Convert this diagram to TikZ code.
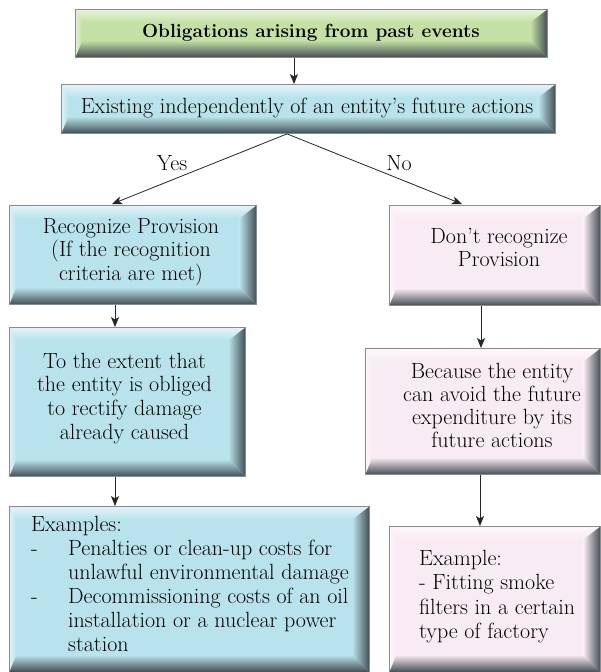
\documentclass[tikz,border=0pt]{standalone}
\usetikzlibrary{arrows.meta,calc}

\definecolor{bgreen}{RGB}{196,224,164}
\definecolor{bblue}{RGB}{184,227,236}
\definecolor{bpink}{RGB}{249,235,243}
\definecolor{bdark}{RGB}{66,78,84}
\definecolor{bedge}{RGB}{140,140,140}

% lines of a multi-line label; the baseline is that of the first line
\newcommand\txtlines[2]{\begin{tabular}[t]{@{}#1@{}}#2\end{tabular}}

\tikzset{
  % box with a raised (bevelled) look: light top/left edges, dark bottom/right edges
  bevel/.style={
    draw=bedge, line width=0.9pt, fill=#1, inner sep=0pt, anchor=north west,
    path picture={
      \coordinate (bvSW) at (path picture bounding box.south west);
      \coordinate (bvNE) at (path picture bounding box.north east);
      \coordinate (bvSE) at (bvSW -| bvNE);
      \coordinate (bvNW) at (bvSW |- bvNE);
      \shade[top color=white!60!#1, bottom color=#1]
        (bvNW) -- (bvNE) -- ($(bvNE)+(-17pt,-13pt)$) -- ($(bvNW)+(7pt,-13pt)$) -- cycle;
      \shade[left color=white!50!#1, right color=#1]
        (bvNW) -- ($(bvNW)+(7pt,-13pt)$) -- ($(bvSW)+(7pt,17pt)$) -- (bvSW) -- cycle;
      \shade[left color=#1, middle color=#1!60!bdark, right color=bdark]
        (bvNE) -- (bvSE) -- ($(bvSE)+(-17pt,17pt)$) -- ($(bvNE)+(-17pt,-13pt)$) -- cycle;
      \shade[top color=#1, middle color=#1!60!bdark, bottom color=bdark]
        (bvSW) -- (bvSE) -- ($(bvSE)+(-17pt,17pt)$) -- ($(bvSW)+(7pt,17pt)$) -- cycle;
    }
  },
  txt/.style={inner sep=0pt, font=\fontsize{22}{#1}\selectfont, text=black},
  txt/.default=23.7,
  arr/.style={-{Stealth[length=10pt,width=8pt,inset=2.5pt]}, line width=0.8pt, black!85},
}

\begin{document}
\begin{tikzpicture}[x=1pt,y=-1pt]
  \fill[white] (0,0) rectangle (601,672);
  \useasboundingbox (0,0) rectangle (601,672);

  % boxes
  \node[bevel=bgreen, minimum width=472pt, minimum height=48pt]  (obl) at (75,9)   {};
  \node[bevel=bblue,  minimum width=494pt, minimum height=49pt]  (exi) at (61,84)  {};
  \node[bevel=bblue,  minimum width=247pt, minimum height=99pt]  (rec) at (9,205)  {};
  \node[bevel=bblue,  minimum width=236pt, minimum height=149pt] (ext) at (9,327)  {};
  \node[bevel=bblue,  minimum width=360pt, minimum height=165.5pt] (exa) at (9,506)  {};
  \node[bevel=bpink,  minimum width=211pt, minimum height=100pt] (don) at (389,205) {};
  \node[bevel=bpink,  minimum width=235pt, minimum height=126pt] (bec) at (365,348) {};
  \node[bevel=bpink,  minimum width=211pt, minimum height=145.5pt] (exb) at (389,526) {};

  % texts
  \node[inner sep=0pt, font=\fontsize{19}{23}\selectfont\bfseries, anchor=base] (oblT) at (311,37)
    {Obligations arising from past events};
  \node[txt, anchor=base] (exiT) at (307,113) {Existing independently of an entity’s future actions};
  \node[txt=23.5, anchor=base] (recT) at (131,233)
    {\txtlines{c}{Recognize Provision\\(If the recognition\\criteria are met)}};
  \node[txt=23.7, anchor=base] (extT) at (124.5,368)
    {\txtlines{c}{To the extent that\\the entity is obliged\\to rectify damage\\already caused}};
  \node[txt=24, anchor=base west] (exaT) at (31,531)
    {\txtlines{l}{Examples:\\
      \makebox[37pt][l]{-}Penalties or clean-up costs for\\
      \hspace*{37pt}unlawful environmental damage\\
      \makebox[37pt][l]{-}Decommissioning costs of an oil\\
      \hspace*{37pt}installation or a nuclear power\\
      \hspace*{37pt}station}};
  \node[txt=23, anchor=base] (donT) at (499,243)
    {\txtlines{c}{Don’t recognize\\Provision}};
  \node[txt=23, anchor=base] (becT) at (492,378)
    {\txtlines{c}{Because the entity\\can avoid the future\\expenditure by its\\future actions}};
  \node[txt=24.6, anchor=base west] (exbT) at (419,565)
    {\txtlines{l}{Example:\\- Fitting smoke\\filters in a certain\\type of factory}};

  % connectors
  \draw[arr] (294,0 |- obl.south) -- (294,0 |- exi.north);
  \draw[arr] (287,0 |- exi.south) -- ($(112,0 |- rec.north)+(0,-1)$);
  \draw[arr] (287,0 |- exi.south) -- ($(462,0 |- don.north)+(0,-1)$);
  \draw[arr] (115,0 |- rec.south) -- (115,0 |- ext.north);
  \draw[arr] (115,0 |- ext.south) -- (115,0 |- exa.north);
  \draw[arr] (481,0 |- don.south) -- (481,0 |- bec.north);
  \draw[arr] (480,0 |- bec.south) -- (480,0 |- exb.north);

  % branch labels
  \node[txt, anchor=base] (yes) at (172,170) {Yes};
  \node[txt, anchor=base] (no)  at (399,170) {No};
\end{tikzpicture}
\end{document}
